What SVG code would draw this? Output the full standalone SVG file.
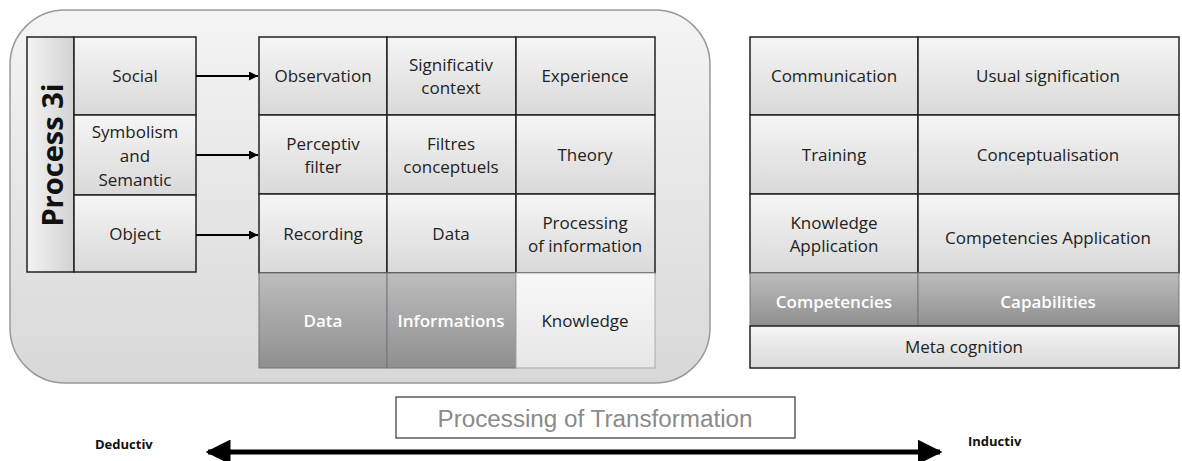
<svg xmlns="http://www.w3.org/2000/svg" width="1182" height="461" viewBox="0 0 1182 461">
<defs>
<linearGradient id="gCell" x1="0" y1="0" x2="0" y2="1"><stop offset="0" stop-color="#f5f5f5"/><stop offset="1" stop-color="#d9d9d9"/></linearGradient>
<linearGradient id="gSide" x1="0" y1="0" x2="1" y2="0"><stop offset="0" stop-color="#f3f3f3"/><stop offset="1" stop-color="#d2d2d2"/></linearGradient>
<linearGradient id="gDark" x1="0" y1="0" x2="0" y2="1"><stop offset="0" stop-color="#bdbdbd"/><stop offset="1" stop-color="#8f8f8f"/></linearGradient>
<linearGradient id="gLight" x1="0" y1="0" x2="0" y2="1"><stop offset="0" stop-color="#f8f8f8"/><stop offset="1" stop-color="#e6e6e6"/></linearGradient>
<linearGradient id="gBg" x1="0" y1="0" x2="0" y2="1"><stop offset="0" stop-color="#f4f4f4"/><stop offset="1" stop-color="#d8d8d8"/></linearGradient>
<marker id="ah" viewBox="0 0 10 10" refX="10" refY="5" markerWidth="9" markerHeight="9" markerUnits="userSpaceOnUse" orient="auto"><path d="M0,0 L10,5 L0,10 z" fill="#000"/></marker>
<marker id="bigE" viewBox="0 0 10 10" refX="9" refY="5" markerWidth="5" markerHeight="5" orient="auto"><path d="M0,0 L10,5 L0,10 z" fill="#000"/></marker>
<marker id="bigS" viewBox="0 0 10 10" refX="1" refY="5" markerWidth="5" markerHeight="5" orient="auto"><path d="M10,0 L0,5 L10,10 z" fill="#000"/></marker>
</defs>
<style>
.cell{fill:url(#gCell);stroke:#222;stroke-width:1.5}
.dark{fill:url(#gDark);stroke:#777;stroke-width:1}
.light{fill:url(#gLight);stroke:#aaa;stroke-width:1}
.t{font-family:"Open Sans","Liberation Sans",sans-serif;font-size:17px;fill:#222;text-anchor:middle}
.w{fill:#fff;font-weight:600}
.b{font-family:"Open Sans","Liberation Sans",sans-serif;font-weight:bold;font-size:13px;fill:#111}
</style>
<rect id="container" x="10" y="10" width="700" height="373" rx="55" ry="55" fill="url(#gBg)" stroke="#999" stroke-width="1.5"/>

<g id="process3i">
<rect x="27" y="37" width="47" height="235" fill="url(#gSide)" stroke="#222" stroke-width="1.5"/>
<text transform="translate(63,155) rotate(-90)" font-family="Open Sans,Liberation Sans,sans-serif" font-weight="bold" font-size="29" text-anchor="middle" fill="#111">Process 3i</text>
</g>
<g id="social"><rect class="cell" x="74" y="37" width="122" height="78"/><text class="t" x="135" y="82">Social</text></g>
<g id="symbolism"><rect class="cell" x="74" y="115" width="122" height="80"/><text class="t" x="135" y="138">Symbolism</text><text class="t" x="135" y="162">and</text><text class="t" x="135" y="186">Semantic</text></g>
<g id="object"><rect class="cell" x="74" y="195" width="122" height="77"/><text class="t" x="135" y="240">Object</text></g>

<g id="observation"><rect class="cell" x="259" y="37" width="128" height="78"/><text class="t" x="323" y="82">Observation</text></g>
<g id="significativ"><rect class="cell" x="387" y="37" width="129" height="78"/><text class="t" x="451" y="71">Significativ</text><text class="t" x="451" y="94">context</text></g>
<g id="experience"><rect class="cell" x="516" y="37" width="139" height="78"/><text class="t" x="585" y="82">Experience</text></g>
<g id="perceptiv"><rect class="cell" x="259" y="115" width="128" height="79"/><text class="t" x="323" y="150">Perceptiv</text><text class="t" x="323" y="173">filter</text></g>
<g id="filtres"><rect class="cell" x="387" y="115" width="129" height="79"/><text class="t" x="451" y="150">Filtres</text><text class="t" x="451" y="173">conceptuels</text></g>
<g id="theory"><rect class="cell" x="516" y="115" width="139" height="79"/><text class="t" x="585" y="161">Theory</text></g>
<g id="recording"><rect class="cell" x="259" y="194" width="128" height="79"/><text class="t" x="323" y="240">Recording</text></g>
<g id="data1"><rect class="cell" x="387" y="194" width="129" height="79"/><text class="t" x="451" y="240">Data</text></g>
<g id="processinginfo"><rect class="cell" x="516" y="194" width="139" height="79"/><text class="t" x="585" y="229">Processing</text><text class="t" x="585" y="252">of information</text></g>

<g id="data2"><rect class="dark" x="259" y="273" width="128" height="95"/><text class="t w" x="323" y="327">Data</text></g>
<g id="informations"><rect class="dark" x="387" y="273" width="129" height="95"/><text class="t w" x="451" y="327">Informations</text></g>
<g id="knowledge"><rect class="light" x="516" y="273" width="139" height="95"/><text class="t" x="585" y="327">Knowledge</text></g>

<g id="communication"><rect class="cell" x="750" y="37" width="168" height="78"/><text class="t" x="834" y="82">Communication</text></g>
<g id="usual"><rect class="cell" x="918" y="37" width="261" height="78"/><text class="t" x="1048" y="82">Usual signification</text></g>
<g id="training"><rect class="cell" x="750" y="115" width="168" height="79"/><text class="t" x="834" y="161">Training</text></g>
<g id="conceptualisation"><rect class="cell" x="918" y="115" width="261" height="79"/><text class="t" x="1048" y="161">Conceptualisation</text></g>
<g id="knowledgeapp"><rect class="cell" x="750" y="194" width="168" height="79"/><text class="t" x="834" y="229">Knowledge</text><text class="t" x="834" y="252">Application</text></g>
<g id="competenciesapp"><rect class="cell" x="918" y="194" width="261" height="79"/><text class="t" x="1048" y="244">Competencies Application</text></g>
<g id="competencies"><rect class="dark" x="750" y="273" width="168" height="53"/><text class="t w" x="834" y="308">Competencies</text></g>
<g id="capabilities"><rect class="dark" x="918" y="273" width="261" height="53"/><text class="t w" x="1048" y="308">Capabilities</text></g>
<g id="metacognition"><rect class="cell" x="750" y="326" width="429" height="42" stroke-width="1.2"/><text class="t" x="964" y="353">Meta cognition</text></g>

<g id="transformation"><rect x="396" y="397" width="399" height="41" fill="#fff" stroke="#333" stroke-width="1.2"/><text x="595" y="427" font-family="Liberation Sans,sans-serif" font-size="23" fill="#8a8a8a" text-anchor="middle" textLength="315" lengthAdjust="spacingAndGlyphs">Processing of Transformation</text></g>
<g id="deductiv"><text class="b" x="95" y="449">Deductiv</text></g>
<g id="inductiv"><text class="b" x="968" y="446">Inductiv</text></g>

<g id="connectors" stroke="#000" stroke-width="2" fill="none">
<line x1="196" y1="76" x2="258" y2="76" marker-end="url(#ah)"/>
<line x1="196" y1="155" x2="258" y2="155" marker-end="url(#ah)"/>
<line x1="196" y1="235" x2="258" y2="235" marker-end="url(#ah)"/>
<line x1="208" y1="452" x2="940" y2="452" stroke-width="5" marker-start="url(#bigS)" marker-end="url(#bigE)"/>
</g>
</svg>
